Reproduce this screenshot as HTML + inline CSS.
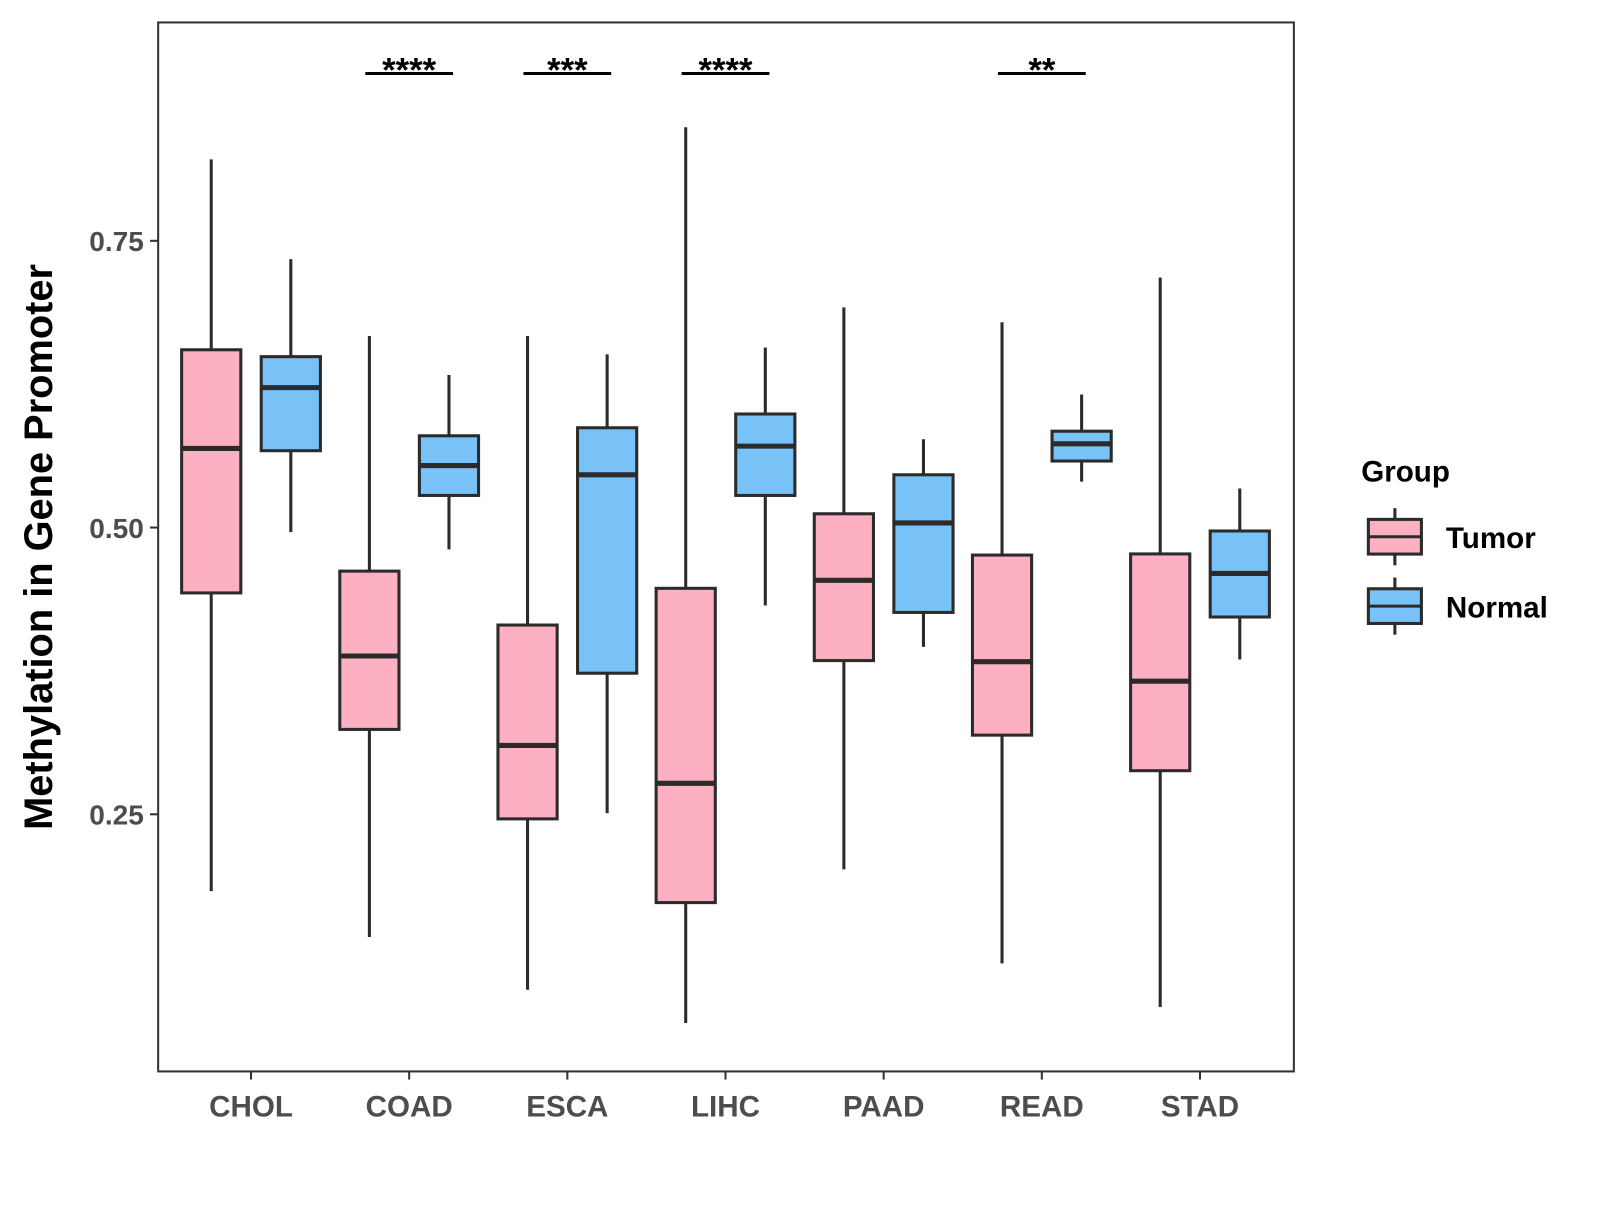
<!DOCTYPE html>
<html><head><meta charset="utf-8"><style>
body{margin:0;background:#fff;width:1600px;height:1200px;overflow:hidden}
text{font-family:"Liberation Sans",Arial,sans-serif;font-weight:bold}
</style></head><body>
<svg width="1600" height="1200" xmlns="http://www.w3.org/2000/svg"><g id="chart" transform="scale(1.0204)"></g></svg>
<script>
const categories=["CHOL","COAD","ESCA","LIHC","PAAD","READ","STAD"];
// [whiskerHigh, q3, median, q1, whiskerLow]
const tumorStats=[[0.821,0.655,0.569,0.443,0.183],[0.667,0.462,0.388,0.324,0.143],[0.667,0.415,0.310,0.246,0.097],[0.849,0.447,0.277,0.173,0.068],[0.692,0.512,0.454,0.384,0.202],[0.679,0.476,0.383,0.319,0.120],[0.718,0.477,0.366,0.288,0.082]];
const normalStats=[[0.734,0.649,0.622,0.567,0.496],[0.633,0.580,0.554,0.528,0.481],[0.651,0.587,0.546,0.373,0.251],[0.657,0.599,0.571,0.528,0.432],[0.577,0.546,0.504,0.426,0.396],[0.616,0.584,0.573,0.558,0.540],[0.534,0.497,0.460,0.422,0.385]];
const sigLabels=["","****","***","****","","**",""];
const yTicks=[0.25,0.50,0.75];
const yTickLabels=["0.25","0.50","0.75"];

const svg=document.getElementById('chart');
const NS="http://www.w3.org/2000/svg";
const y=v=>517-(v-0.5)*1124;
const x=i=>246+i*155;
function mk(tag,attrs,parent){const e=document.createElementNS(NS,tag);for(const k in attrs)e.setAttribute(k,attrs[k]);(parent||svg).appendChild(e);return e;}
const ST="#2b2b2b";
const panel=mk('rect',{x:155,y:22,width:1113,height:1028,fill:'none',stroke:'#333','stroke-width':2});


yTicks.forEach((t,i)=>{
  const g=mk('g',{});
  
  
  mk('line',{x1:147,x2:155,y1:y(t),y2:y(t),stroke:'#333','stroke-width':2},g);
  const tx=mk('text',{x:141,y:y(t)+10,'text-anchor':'end','font-size':27.5,fill:'#4d4d4d'},g);tx.textContent=yTickLabels[i];
});
categories.forEach((c,i)=>{
  const g=mk('g',{});
  
  
  mk('line',{x1:x(i),x2:x(i),y1:1050,y2:1058,stroke:'#333','stroke-width':2},g);
  const tx=mk('text',{x:x(i),y:1094,'text-anchor':'middle','font-size':29,fill:'#4d4d4d'},g);tx.textContent=c;
});
function box(cx,s,fill,name){
  const g=mk('g',{});
  
  
  mk('line',{x1:cx,x2:cx,y1:y(s[0]),y2:y(s[4]),stroke:ST,'stroke-width':3},g);
  mk('rect',{x:cx-29,y:y(s[1]),width:58,height:y(s[3])-y(s[1]),fill:fill,stroke:ST,'stroke-width':3},g);
  mk('line',{x1:cx-29,x2:cx+29,y1:y(s[2]),y2:y(s[2]),stroke:ST,'stroke-width':5},g);
}
categories.forEach((c,i)=>{
  box(x(i)-39,tumorStats[i],'#FDB0C2','box-tumor-'+c.toLowerCase());
  box(x(i)+39,normalStats[i],'#79C2F8','box-normal-'+c.toLowerCase());
  if(sigLabels[i]){
    const g=mk('g',{});
    
    
    mk('line',{x1:x(i)-43,x2:x(i)+43,y1:72,y2:72,stroke:'#000','stroke-width':3},g);
    const tx=mk('text',{x:x(i),y:80,'text-anchor':'middle','font-size':34,fill:'#000'},g);tx.textContent=sigLabels[i];
  }
});
const yt=mk('text',{x:0,y:0,transform:'translate(51,536) rotate(-90)','text-anchor':'middle','font-size':39,fill:'#000'});
yt.textContent='Methylation in Gene Promoter';


const lt=mk('text',{x:1334,y:472,'font-size':29,fill:'#000'});lt.textContent='Group';


[['Tumor','#FDB0C2',526],['Normal','#79C2F8',594]].forEach(([n,f,cy])=>{
  const g=mk('g',{});
  
  
  mk('line',{x1:1367,x2:1367,y1:cy-28,y2:cy+28,stroke:ST,'stroke-width':3},g);
  mk('rect',{x:1341,y:cy-17,width:52,height:34,fill:f,stroke:ST,'stroke-width':3},g);
  mk('line',{x1:1341,x2:1393,y1:cy,y2:cy,stroke:ST,'stroke-width':3},g);
  const tx=mk('text',{x:1417,y:cy+11,'font-size':29,fill:'#000'},g);tx.textContent=n;
});
</script>
</body></html>
